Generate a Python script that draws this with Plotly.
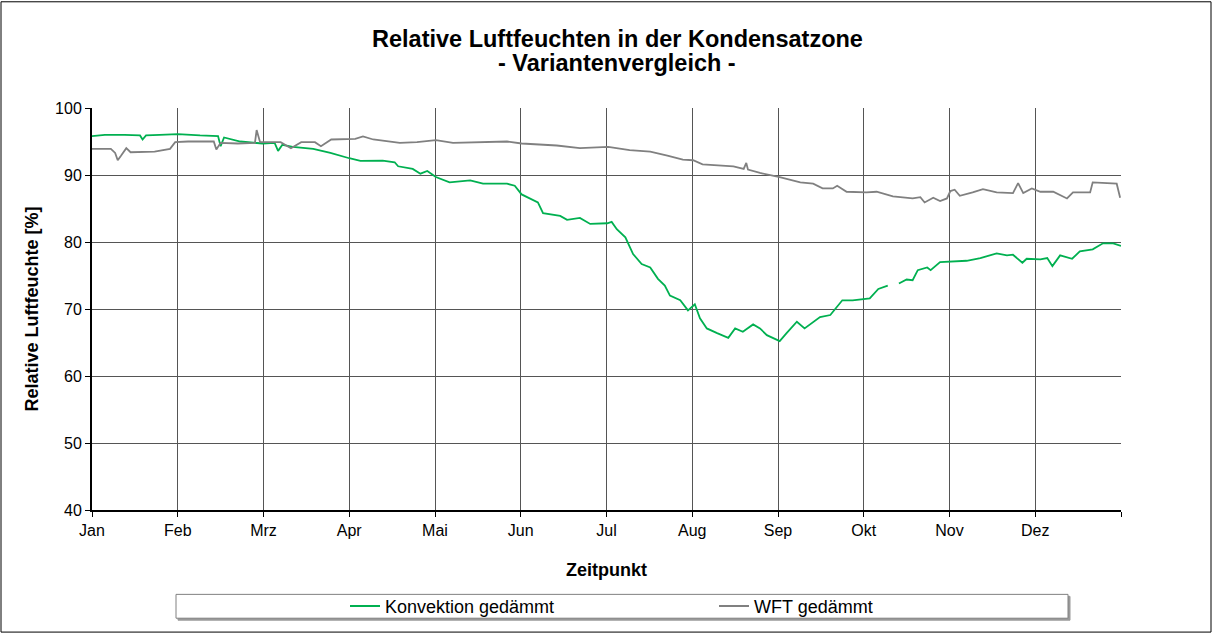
import plotly.graph_objects as go

# Month labels (x axis: equal-width months, position 0..12)
months = ["Jan", "Feb", "Mrz", "Apr", "Mai", "Jun", "Jul", "Aug", "Sep", "Okt", "Nov", "Dez"]

# Konvektion gedämmt (position in months, relative humidity %)
konv_x = [0.00, 0.15, 0.38, 0.56, 0.59, 0.63, 0.79, 1.00, 1.26, 1.47, 1.50, 1.54, 1.73, 1.99,
          2.13, 2.17, 2.22, 2.34, 2.58, 2.78, 3.00, 3.13, 3.39, 3.53, 3.57, 3.74, 3.83, 3.91,
          4.01, 4.17, 4.41, 4.56, 4.84, 4.93, 5.01, 5.13, 5.20, 5.26, 5.46, 5.54, 5.69, 5.81,
          6.01, 6.06, 6.12, 6.22, 6.31, 6.41, 6.51, 6.60, 6.68, 6.74, 6.86, 6.95, 7.03, 7.09,
          7.17, 7.29, 7.42, 7.50, 7.59, 7.71, 7.79, 7.87, 7.94, 8.02, 8.10, 8.22, 8.31, 8.49,
          8.61, 8.75, 8.87, 9.07, 9.17, 9.28, 9.34, 9.41, 9.50, 9.57, 9.63, 9.74, 9.78, 9.89,
          10.03, 10.20, 10.36, 10.55, 10.67, 10.74, 10.85, 10.90, 11.06, 11.14, 11.20, 11.29,
          11.43, 11.52, 11.67, 11.79, 11.91, 12.00]
konv_y = [95.8, 96.0, 96.0, 95.9, 95.3, 95.9, 96.0, 96.1, 95.9, 95.8, 94.3, 95.6, 95.0, 94.7,
          94.8, 93.6, 94.5, 94.2, 93.9, 93.3, 92.5, 92.1, 92.15, 91.9, 91.3, 90.9, 90.2, 90.6,
          89.7, 88.9, 89.2, 88.7, 88.7, 88.4, 87.1, 86.4, 85.9, 84.3, 83.9, 83.3, 83.6, 82.7,
          82.8, 83.0, 81.9, 80.7, 78.2, 76.7, 76.2, 74.5, 73.5, 72.0, 71.3, 69.8, 70.7, 68.6,
          67.1, 66.4, 65.7, 67.1, 66.6, 67.7, 67.1, 66.1, 65.7, 65.2, 66.4, 68.1, 67.1, 68.8,
          69.1, 71.3, 71.3, 71.6, 73.0, 73.5, None, 73.8, 74.4, 74.3, 75.8, 76.2, 75.8, 77.0,
          77.1, 77.2, 77.6, 78.3, 78.0, 78.1, 76.9, 77.5, 77.4, 77.6, 76.4, 78.0,
          77.5, 78.6, 78.9, 79.8, 79.8, 79.4]

# WFT gedämmt
wft_x = [0.00, 0.22, 0.27, 0.30, 0.34, 0.40, 0.45, 0.73, 0.91, 0.97, 1.12, 1.42, 1.45, 1.50,
         1.70, 1.90, 1.92, 1.96, 2.20, 2.32, 2.44, 2.60, 2.67, 2.79, 3.07, 3.16, 3.28, 3.59,
         3.79, 4.01, 4.21, 4.44, 4.84, 5.01, 5.22, 5.42, 5.69, 6.02, 6.27, 6.51, 6.71, 6.89,
         7.01, 7.12, 7.48, 7.60, 7.63, 7.65, 7.79, 8.02, 8.26, 8.41, 8.52, 8.64, 8.69, 8.80,
         9.03, 9.15, 9.34, 9.57, 9.66, 9.71, 9.81, 9.89, 9.97, 10.01, 10.06, 10.12, 10.27,
         10.39, 10.55, 10.74, 10.80, 10.86, 10.96, 11.06, 11.21, 11.37, 11.44, 11.64, 11.67,
         11.84, 11.95, 11.99]
wft_y = [93.9, 93.9, 93.3, 92.2, 92.9, 94.0, 93.4, 93.5, 93.9, 94.9, 95.0, 95.0, 93.8, 94.8,
         94.7, 94.8, 96.7, 94.9, 94.9, 94.0, 94.9, 94.9, 94.3, 95.3, 95.4, 95.75, 95.3, 94.8,
         94.9, 95.2, 94.8, 94.9, 95.0, 94.7, 94.5, 94.4, 94.0, 94.2, 93.7, 93.5, 92.9, 92.3,
         92.2, 91.6, 91.3, 90.9, 91.8, 90.8, 90.3, 89.7, 88.9, 88.7, 88.0, 88.0, 88.4, 87.5,
         87.4, 87.5, 86.8, 86.5, 86.7, 85.9, 86.6, 86.1, 86.5, 87.6, 87.8, 86.9, 87.4,
         87.9, 87.4, 87.3, 88.8, 87.3, 88.0, 87.5, 87.5, 86.5, 87.4, 87.4, 88.9,
         88.8, 88.7, 86.6]

y_ticks = [40, 50, 60, 70, 80, 90, 100]

title_line1 = "Relative Luftfeuchten in der Kondensatzone"
title_line2 = "- Variantenvergleich -"

W, H = 1213, 637
L, R, T, B = 92, 92, 108, 124
pw, ph = W - L - R, H - T - B

def px(x):
    return (x - L) / pw

def py(y):
    return (H - B - y) / ph

fig = go.Figure()
fig.add_trace(go.Scatter(x=konv_x, y=konv_y, mode="lines", name="Konvektion gedämmt",
                         line=dict(color="#00B050", width=1.8), connectgaps=False))
fig.add_trace(go.Scatter(x=wft_x, y=wft_y, mode="lines", name="WFT gedämmt",
                         line=dict(color="#808080", width=1.8)))

font_family = "Liberation Sans, Arial, sans-serif"

fig.update_layout(
    width=W, height=H,
    margin=dict(l=L, r=R, t=T, b=B),
    paper_bgcolor="white", plot_bgcolor="white",
    font=dict(family=font_family, size=16, color="black"),
    xaxis=dict(range=[0, 12], tickvals=list(range(13)), ticktext=months + [""],
               showgrid=True, gridcolor="#555555", gridwidth=1,
               showline=True, linecolor="black", linewidth=2,
               ticks="outside", ticklen=5, tickcolor="black",
               zeroline=False,
               title=dict(text="<b>Zeitpunkt</b>", font=dict(size=18), standoff=25),
               tickfont=dict(size=16)),
    yaxis=dict(range=[40, 100], tickvals=y_ticks,
               showgrid=True, gridcolor="#555555", gridwidth=1,
               showline=True, linecolor="black", linewidth=2,
               ticks="outside", ticklen=5, tickcolor="black",
               zeroline=False,
               title=dict(text="<b>Relative Luftfeuchte [%]</b>", font=dict(size=18), standoff=12),
               tickfont=dict(size=16)),
    showlegend=True,
    legend=dict(orientation="h", x=px(345), xanchor="left", y=py(610), yanchor="middle",
                entrywidth=324, entrywidthmode="pixels",
                bgcolor="rgba(0,0,0,0)", borderwidth=0,
                font=dict(size=18)),
    annotations=[
        dict(text="<b>" + title_line1 + "</b>", xref="paper", yref="paper",
             x=px(617), y=py(38), xanchor="center", yanchor="middle", showarrow=False,
             font=dict(size=23.5, color="black")),
        dict(text="<b>" + title_line2 + "</b>", xref="paper", yref="paper",
             x=px(617), y=py(63), xanchor="center", yanchor="middle", showarrow=False,
             font=dict(size=23.5, color="black")),
    ],
    shapes=[
        # outer chart border
        dict(type="rect", xref="paper", yref="paper",
             x0=px(1), x1=px(1211), y0=py(636), y1=py(1),
             line=dict(color="black", width=1), fillcolor="rgba(0,0,0,0)", layer="below"),
        # legend box shadow
        dict(type="rect", xref="paper", yref="paper",
             x0=px(178), x1=px(1070), y0=py(624), y1=py(600),
             line=dict(color="#9a9a9a", width=1), fillcolor="#9a9a9a", layer="below"),
        # legend box
        dict(type="rect", xref="paper", yref="paper",
             x0=px(176), x1=px(1068), y0=py(622), y1=py(598),
             line=dict(color="#808080", width=1), fillcolor="white", layer="below"),
    ],
)

fig.write_html("out.html", config={"displayModeBar": False},
               post_script="document.body.style.margin='0';")
